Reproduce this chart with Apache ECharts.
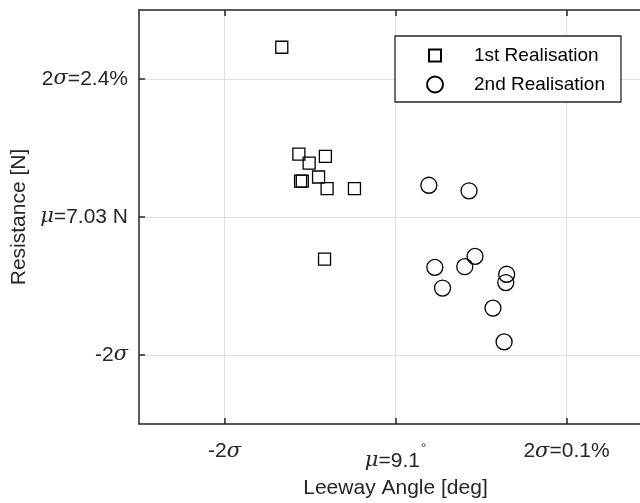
<!DOCTYPE html>
<html><head><meta charset="utf-8">
<script src="https://cdn.jsdelivr.net/npm/echarts@6/dist/echarts.min.js"></script>
<style>html,body{margin:0;padding:0;background:#fff}#c{width:640px;height:503px}</style>
</head><body><div id="c"></div>
<script>
// Values in units of standard deviation from the mean
const seriesNames = ['1st Realisation', '2nd Realisation'];
const leewayTicks = [-2, 0, 2];
const leewayTickLabels = ['-2σ', 'μ=9.1°', '2σ=0.1%'];
const resistTicks = [-2, 0, 2];
const resistTickLabels = ['-2σ', 'μ=7.03 N', '2σ=2.4%'];

const firstLeeway = [-1.33, -1.13, -1.01, -0.82, -0.90, -1.11, -1.09, -0.80, -0.48, -0.83];
const firstResist = [2.46, 0.91, 0.78, 0.88, 0.58, 0.52, 0.52, 0.41, 0.41, -0.61];
const secondLeeway = [0.39, 0.86, 0.93, 0.46, 0.81, 1.30, 1.29, 0.55, 1.14, 1.27];
const secondResist = [0.46, 0.38, -0.57, -0.73, -0.72, -0.83, -0.95, -1.03, -1.32, -1.81];

const FONT = '"Liberation Sans", Arial, sans-serif';
const TXT = '#262626';
const AX = '#262626';
const GRIDC = '#e0e0e0';

function toRich(s, big) {
  const sfx = big ? 'L' : '';
  let out = '', buf = '';
  const flush = () => { if (buf) { out += '{n' + sfx + '|' + buf + '}'; buf = ''; } };
  for (const ch of s) {
    if (ch === 'σ' || ch === 'μ') { flush(); out += '{g' + sfx + '|' + ch + '}'; }
    else if (ch === '°') { flush(); out += '{sup|' + ch + '}'; }
    else buf += ch;
  }
  flush();
  return out;
}
const richStyles = {
  n: {fontSize: 21, fontFamily: FONT, color: TXT},
  g: {fontSize: 21, fontFamily: 'DejaVu Serif, serif', fontStyle: 'italic', color: TXT},
  nL: {fontSize: 21, fontFamily: FONT, color: TXT, lineHeight: 40},
  gL: {fontSize: 21, fontFamily: 'DejaVu Serif, serif', fontStyle: 'italic', color: TXT, lineHeight: 40},
  sup: {fontSize: 13, fontFamily: FONT, color: TXT, verticalAlign: 'top', padding: [1, 0, 0, 1]}
};
function labelFor(ticks, labels) {
  return v => {
    const i = ticks.findIndex(t => Math.abs(t - v) < 1e-9);
    if (i < 0) return '';
    const s = labels[i];
    return toRich(s, s.indexOf('°') >= 0);
  };
}

const lineStyle = {color: AX, width: 1.5};
function mkAxis(pos, ticks, labels, name, gap, main) {
  return {
    type: 'value', min: -3, max: 3, interval: 1, position: pos,
    axisLine: {show: true, onZero: false, lineStyle},
    axisTick: {show: true, inside: true, length: 6, customValues: ticks, lineStyle},
    axisLabel: main ? {show: true, customValues: ticks, formatter: labelFor(ticks, labels), rich: richStyles,
      margin: (pos === 'bottom') ? 17 : 11} : {show: false},
    splitLine: {show: main, lineStyle: {color: GRIDC, width: 1}},
    name: main ? name : '', nameLocation: 'middle', nameGap: gap,
    nameTextStyle: {fontSize: 21, fontFamily: FONT, color: TXT}
  };
}

const chart = echarts.init(document.getElementById('c'), null, {renderer: 'canvas'});
chart.setOption({
  animation: false,
  backgroundColor: '#fff',
  grid: {left: 139, right: -12, top: 10, bottom: 79, outerBoundsMode: 'none'},
  xAxis: [mkAxis('bottom', leewayTicks, leewayTickLabels, 'Leeway Angle [deg]', 54, true),
          mkAxis('top', leewayTicks, leewayTickLabels, '', 0, false)],
  yAxis: [mkAxis('left', resistTicks, resistTickLabels, 'Resistance [N]', 106, true),
          mkAxis('right', resistTicks, resistTickLabels, '', 0, false)],
  legend: {
    orient: 'vertical', left: 395, top: 36,
    padding: [10, 16, 8, 31], itemGap: 10, itemWidth: 16, itemHeight: 16,
    borderColor: AX, borderWidth: 1.3, backgroundColor: '#fff',
    textStyle: {fontSize: 19, fontFamily: FONT, color: '#000', padding: [0, 0, 0, 26]},
    data: [
      {name: seriesNames[0], icon: 'path://M0,0M2,2L14,2L14,14L2,14ZM16,16'},
      {name: seriesNames[1], icon: 'circle'}
    ]
  },
  series: [
    {name: seriesNames[0], type: 'scatter', symbol: 'rect', symbolSize: 12,
     itemStyle: {color: 'rgba(0,0,0,0)', borderColor: '#000', borderWidth: 1.3, opacity: 1},
     data: firstLeeway.map((x, i) => [x, firstResist[i]])},
    {name: seriesNames[1], type: 'scatter', symbol: 'circle', symbolSize: 16,
     itemStyle: {color: 'rgba(0,0,0,0)', borderColor: '#000', borderWidth: 1.3, opacity: 1},
     data: secondLeeway.map((x, i) => [x, secondResist[i]])}
  ]
});
</script></body></html>
